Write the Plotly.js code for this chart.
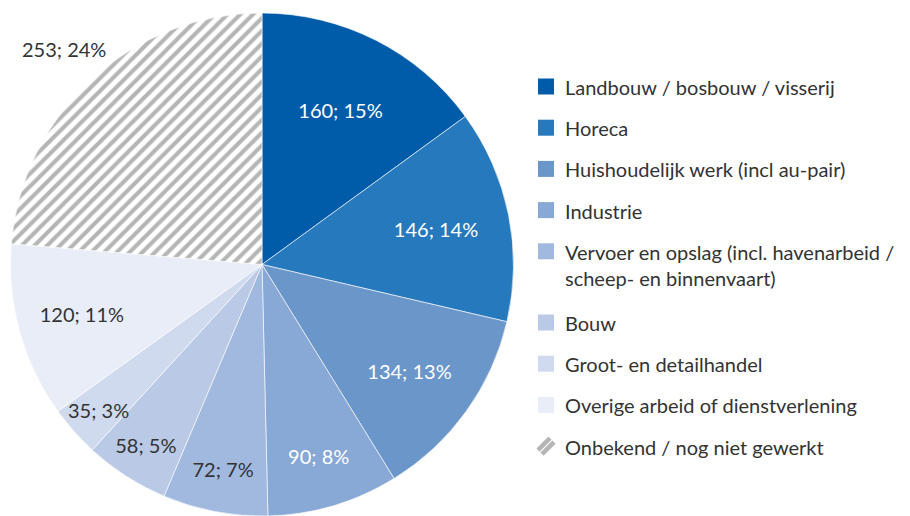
<!DOCTYPE html>
<html>
<head>
<meta charset="utf-8">
<script src="https://cdn.plot.ly/plotly-3.0.1.min.js"></script>
<style>html,body{margin:0;padding:0;background:#fff;}#chart{width:910px;height:516px;}</style>
</head>
<body>
<div id="chart"></div>
<script>
const labels = [
  "Landbouw / bosbouw / visserij",
  "Horeca",
  "Huishoudelijk werk (incl au-pair)",
  "Industrie",
  "Vervoer en opslag (incl. havenarbeid /<br>scheep- en binnenvaart)",
  "Bouw",
  "Groot- en detailhandel",
  "Overige arbeid of dienstverlening",
  "Onbekend / nog niet gewerkt"
];
const values = [160, 146, 134, 90, 72, 58, 35, 120, 253];
const colors = ["#005ca9", "#2779bd", "#6b96c9", "#88a8d5", "#a1b9df", "#b9c9e6", "#cfdaee", "#e8edf8", "#ffffff"];
const patterns = ["", "", "", "", "", "", "", "", "/"];
const textColors = ["#ffffff", "#ffffff", "#ffffff", "#ffffff", "#333333", "#333333", "#333333", "#333333", "#333333"];
// "inside": Plotly's own inside text; "edge": near the rim; "outside": beyond the rim
const labelPlacement = ["inside", "inside", "inside", "inside", "inside", "inside", "edge", "inside", "outside"];

const W = 910, H = 516;
const FONT = "Lato, 'Open Sans', sans-serif";
const HATCH = "#b5b5b5";
// pie geometry (pixels)
const CX = 262, CY = 264.5, R = 251.5;
const RADIUS_FACTOR = {edge: 0.87, outside: 1.165};

const trace = {
  type: "pie",
  labels: labels,
  values: values,
  sort: false,
  direction: "clockwise",
  rotation: 0,
  domain: {x: [(CX - R) / W, (CX + R) / W], y: [0, (2 * R) / H]},
  marker: {
    colors: colors,
    line: {color: "#ffffff", width: 0.6},
    pattern: {shape: patterns, fgcolor: HATCH, bgcolor: "#ffffff", size: 9, solidity: 0.45, fillmode: "replace"}
  },
  texttemplate: "%{value}; %{percent:.0%}",
  textposition: labelPlacement.map(p => p === "inside" ? "inside" : "none"),
  insidetextorientation: "horizontal",
  textfont: {family: FONT, size: 20, color: textColors},
  hoverinfo: "label+value+percent",
  showlegend: false
};

const shapes = [];
const annotations = [];

// Labels not drawn by Plotly's inside text: placed on the slice bisector
const total = values.reduce((a, b) => a + b, 0);
let cum = 0;
for (let i = 0; i < values.length; i++) {
  const mid = (cum + values[i] / 2) / total * 2 * Math.PI;
  cum += values[i];
  if (labelPlacement[i] === "inside") continue;
  const f = RADIUS_FACTOR[labelPlacement[i]];
  const px = CX + f * R * Math.sin(mid);
  const py = CY - f * R * Math.cos(mid);
  annotations.push({
    xref: "paper", yref: "paper", x: px / W, y: 1 - py / H,
    xanchor: "center", yanchor: "middle", showarrow: false,
    text: values[i] + "; " + Math.round(values[i] / total * 100) + "%",
    font: {family: FONT, size: 20, color: textColors[i]}
  });
}

// Manual legend built from the arrays
let yPx = 86.5;
for (let i = 0; i < labels.length; i++) {
  const lines = labels[i].split("<br>").length;
  shapes.push({
    type: "rect", xref: "paper", yref: "paper",
    x0: 538 / W, x1: 554 / W,
    y0: 1 - (yPx + 8) / H, y1: 1 - (yPx - 8) / H,
    fillcolor: patterns[i] ? "#ffffff" : colors[i],
    line: {width: 0}
  });
  if (patterns[i]) {
    [[538, yPx + 4, 550, yPx - 8], [542, yPx + 8, 554, yPx - 4]].forEach(s => {
      shapes.push({
        type: "line", xref: "paper", yref: "paper",
        x0: s[0] / W, y0: 1 - s[1] / H, x1: s[2] / W, y1: 1 - s[3] / H,
        line: {color: HATCH, width: 4.5}
      });
    });
  }
  annotations.push({
    xref: "paper", yref: "paper",
    x: 563 / W, y: 1 - (yPx - 13.5) / H,
    xanchor: "left", yanchor: "top", align: "left",
    text: labels[i], showarrow: false,
    font: {family: FONT, size: 20, color: "#333333"}
  });
  yPx += 41.2 + (lines - 1) * 30;
}

const layout = {
  width: W, height: H,
  margin: {l: 0, r: 0, t: 0, b: 0},
  paper_bgcolor: "#ffffff",
  showlegend: false,
  shapes: shapes,
  annotations: annotations,
  font: {family: FONT}
};

Plotly.newPlot("chart", [trace], layout, {displayModeBar: false, staticPlot: true});
</script>
</body>
</html>
